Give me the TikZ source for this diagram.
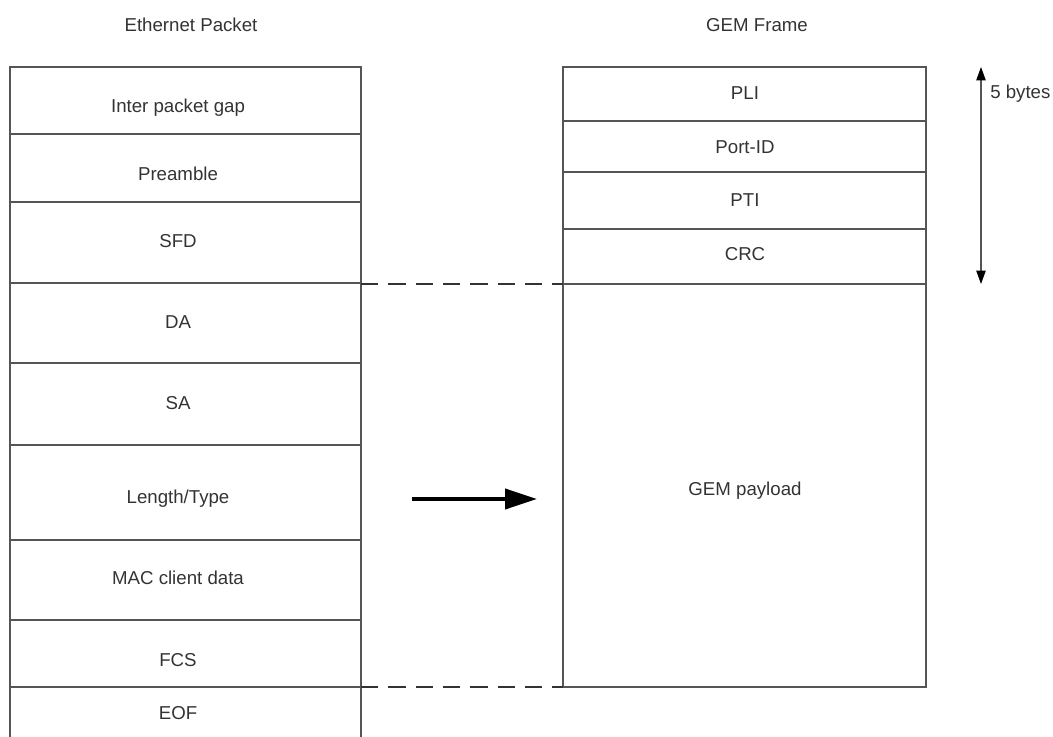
\documentclass[tikz,border=0pt]{standalone}
\usepackage{fontspec}
\setmainfont{Liberation Sans}
\usetikzlibrary{arrows.meta}
\definecolor{ink}{HTML}{333333}
\definecolor{rule}{HTML}{555555}
\begin{document}
\begin{tikzpicture}[x=0.75pt,y=-0.75pt,
  cellrule/.style={draw=rule,line width=1.1pt},
  lbl/.style={text=ink,font=\fontsize{14}{16}\selectfont,anchor=base,inner sep=0pt},
  mapline/.style={draw=ink,line width=1.1pt,dash pattern=on 13pt off 7.5pt},
  bigarrow/.style={draw=black,line width=3pt,-{Triangle[length=24pt,width=15pt]}},
  bytespan/.style={draw=rule,line width=0.9pt,
    {Triangle[length=10pt,width=7pt,fill=black,color=black]}-{Triangle[length=10pt,width=7pt,fill=black,color=black]}}]
\useasboundingbox (0,0) rectangle (1053,737);

% titles
\node[lbl] (ethTitle) at (191,32) {Ethernet Packet};
\node[lbl] (gemTitle) at (757,32) {GEM Frame};

% Ethernet packet column (open at the bottom)
\draw[cellrule] (10,737) -- (10,67) -- (361,67) -- (361,737);
\foreach \y in {134,202,283,363,445,540,620,687}
  \draw[cellrule] (10,\y) -- (361,\y);

\node[lbl] (ipg)  at (178,113) {Inter packet gap};
\node[lbl] (pre)  at (178,181) {Preamble};
\node[lbl] (sfd)  at (178,248) {SFD};
\node[lbl] (da)   at (178,329) {DA};
\node[lbl] (sa)   at (178,410) {SA};
\node[lbl] (lt)   at (178,504) {Length/Type};
\node[lbl] (mac)  at (178,585) {MAC client data};
\node[lbl] (fcs)  at (178,666) {FCS};
\node[lbl] (eof)  at (178,719) {EOF};

% GEM frame column
\draw[cellrule] (563,67) rectangle (926,687);
\foreach \y in {121,172,229,284}
  \draw[cellrule] (563,\y) -- (926,\y);

\node[lbl] (pli)  at (745,99.5) {PLI};
\node[lbl] (port) at (745,154) {Port-ID};
\node[lbl] (pti)  at (745,207) {PTI};
\node[lbl] (crc)  at (745,261) {CRC};
\node[lbl] (pay)  at (745,496) {GEM payload};

% mapping of the MAC frame onto the GEM payload
\coordinate (sfdEnd)   at (361,284);
\coordinate (hdrEnd)   at (563,284);
\coordinate (fcsEnd)   at (361,687);
\coordinate (frameEnd) at (563,687);
\draw[mapline] (sfdEnd) -- (hdrEnd);
\draw[mapline] (fcsEnd) -- (frameEnd);

% encapsulation arrow
\coordinate (arrowTail) at (412,499);
\coordinate (arrowTip)  at (537,499);
\draw[bigarrow] (arrowTail) -- (arrowTip);

% header size marker
\coordinate (spanTop) at (981,67);
\coordinate (spanBot) at (981,284);
\draw[bytespan] (spanTop) -- (spanBot);
\node[lbl,anchor=base west] (hdrSize) at (990,99) {5 bytes};
\end{tikzpicture}
\end{document}
